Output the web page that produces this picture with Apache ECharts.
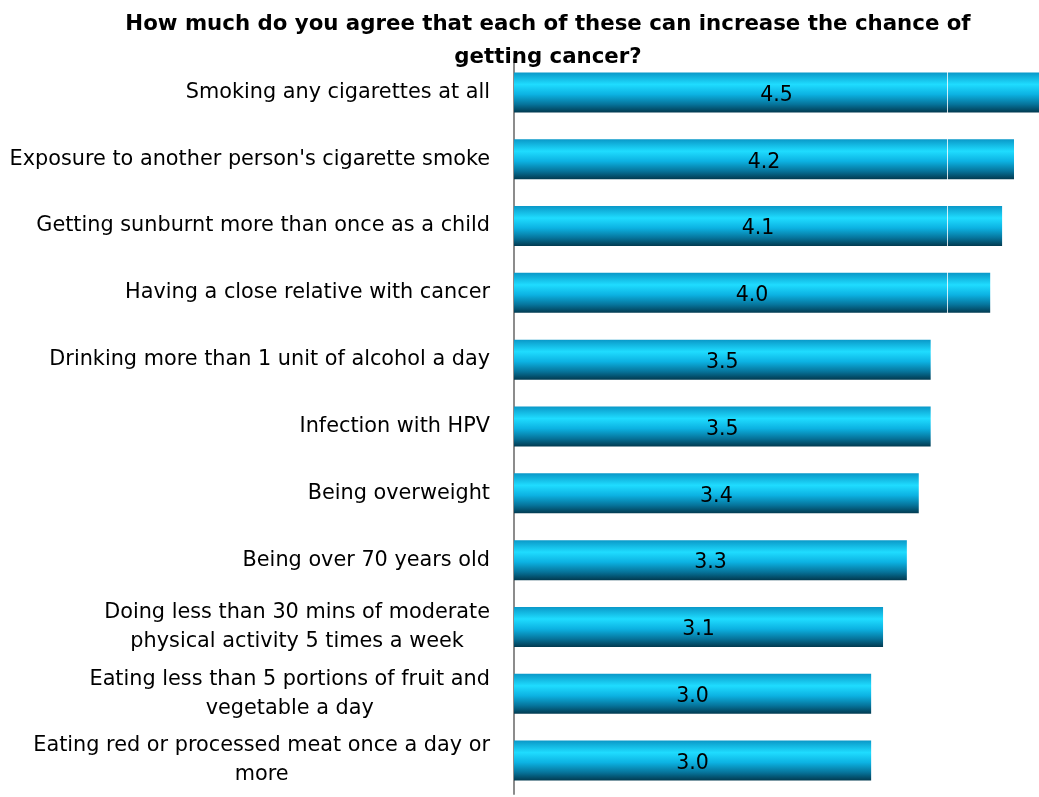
<!DOCTYPE html>
<html>
<head>
<meta charset="utf-8">
<script src="https://cdn.jsdelivr.net/npm/echarts@6/dist/echarts.min.js"></script>
<style>
    html, body { margin: 0; padding: 0; background: #fff; }
    #chart { width: 1039px; height: 797px; }
</style>
</head>
<body>
<div id="chart"></div>
<script>
    // categories, top to bottom
    var categories = [
        'Smoking any cigarettes at all',
        "Exposure to another person's cigarette smoke",
        'Getting sunburnt more than once as a child',
        'Having a close relative with cancer',
        'Drinking more than 1 unit of alcohol a day',
        'Infection with HPV',
        'Being overweight',
        'Being over 70 years old',
        'Doing less than 30 mins of moderate\nphysical activity 5 times a week',
        'Eating less than 5 portions of fruit and\nvegetable a day',
        'Eating red or processed meat once a day or\nmore'
    ];
    var scores = [4.5, 4.2, 4.1, 4.0, 3.5, 3.5, 3.4, 3.3, 3.1, 3.0, 3.0];

    var myChart = echarts.init(document.getElementById('chart'));

    var barColor = new echarts.graphic.LinearGradient(0, 0, 0, 1, [
        { offset: 0, color: '#0a98c8' },
        { offset: 0.3, color: '#1fdcff' },
        { offset: 0.55, color: '#0cb2e2' },
        { offset: 0.8, color: '#06739a' },
        { offset: 1, color: '#023a50' }
    ]);

    var option = {
        backgroundColor: '#ffffff',
        animation: false,
        title: {
            text: 'How much do you agree that each of these can increase the chance of\ngetting cancer?',
            left: 543,
            textAlign: 'center',
            top: 3,
            textStyle: {
                fontFamily: 'DejaVu Sans',
                fontWeight: 'bold',
                fontSize: 21.3,
                lineHeight: 33,
                color: '#000'
            },
            z: 10
        },
        grid: {
            left: 514,
            top: 59,
            right: 0,
            height: 735
        },
        xAxis: {
            type: 'value',
            min: 0,
            max: 4.41,   // the picture is cut at the right edge, the top bar runs past it
            show: false
        },
        yAxis: {
            type: 'category',
            inverse: true,
            data: categories,
            axisLine: { show: true, lineStyle: { color: '#8c8c8c', width: 2 } },
            axisTick: { show: false },
            axisLabel: {
                margin: 24,
                align: 'right',
                fontFamily: 'DejaVu Sans',
                fontSize: 20.8,
                color: '#000',
                lineHeight: 29,
                formatter: function (val) {
                    return val.split('\n').map(function (s) {
                        return '{c|' + s + '}';
                    }).join('\n');
                },
                rich: {
                    c: {
                        align: 'center',
                        fontFamily: 'DejaVu Sans',
                        fontSize: 20.8,
                        lineHeight: 29,
                        color: '#000'
                    }
                }
            }
        },
        series: [{
            type: 'bar',
            data: scores,
            barWidth: 40,
            clip: true,
            itemStyle: { color: barColor },
            label: {
                show: true,
                position: 'inside',
                offset: [0, 3],
                fontFamily: 'DejaVu Sans',
                fontSize: 20.5,
                color: '#000',
                formatter: function (p) {
                    return p.value.toFixed(1);
                }
            },
            markLine: {
                silent: true,
                symbol: 'none',
                label: { show: false },
                lineStyle: { color: '#ffffff', width: 1, type: 'solid', opacity: 0.8 },
                data: [{ xAxis: 3.64 }]
            }
        }]
    };

    myChart.setOption(option);
</script>
</body>
</html>
